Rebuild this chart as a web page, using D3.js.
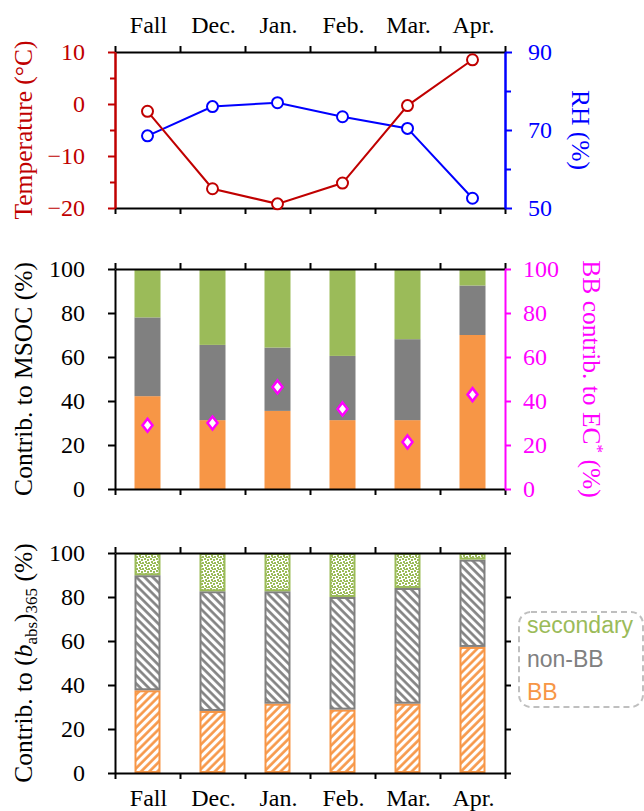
<!DOCTYPE html>
<html>
<head>
<meta charset="utf-8">
<script src="https://cdn.jsdelivr.net/npm/d3@7"></script>
<style>
  body { margin: 0; background: #fff; }
  svg text { font-family: "Liberation Serif", "Times New Roman", serif; }
  .legend text { font-family: "Liberation Sans", Arial, sans-serif; }
</style>
</head>
<body>
<div id="chart"></div>
<script>
// ---- data ----
const months = ["Fall", "Dec.", "Jan.", "Feb.", "Mar.", "Apr."];

// top panel
const temperature = [-1.4, -16.3, -19.2, -15.2, -0.3, 8.5];   // °C
const rh = [68.5, 76.0, 77.0, 73.4, 70.4, 52.5];               // %

// middle panel: contribution to MSOC (%)
const msocBB = [42.2, 31.3, 35.5, 31.3, 31.3, 70.0];
const msocNonBB = [35.8, 34.2, 28.8, 29.2, 36.8, 22.5];
const msocSecondary = [22.0, 34.5, 35.7, 39.5, 31.9, 7.5];
const ecBB = [29.0, 30.0, 46.4, 36.4, 21.4, 42.9];             // BB contrib. to EC* (%)

// bottom panel: contribution to (b_abs)365 (%)
const babsBB = [37.6, 28.2, 31.5, 28.8, 31.5, 57.3];
const babsNonBB = [52.3, 54.4, 51.1, 51.2, 52.6, 39.7];
const babsSecondary = [10.1, 17.4, 17.4, 20.0, 15.9, 3.0];

const sources = ["BB", "non-BB", "secondary"];
const tempTicks = [-20, -10, 0, 10];
const tempMinor = [-15, -5, 5];
const rhTicks = [50, 70, 90];
const rhMinor = [60, 80];
const pctTicks = [0, 20, 40, 60, 80, 100];

// ---- styling ----
const RED = "#C00000", BLUE = "#0000FF", MAGENTA = "#FF00FF";
const colors = {"BB": "#F79646", "non-BB": "#808080", "secondary": "#9BBB59"};
const FS = 24;      // tick / category labels
const TFS = 25.5;   // axis titles

const width = 644, height = 811;
const svg = d3.select("#chart").append("svg")
    .attr("width", width).attr("height", height);

// x layout shared by all panels
const x = d3.scaleBand().domain(months).range([115, 505]);
const xb = d3.scaleLinear().domain([0, months.length]).range([115, 505]); // band edges for ticks
const barW = x.bandwidth() * 0.4;

const panels = {
    top: [52, 208],
    mid: [269, 489],
    bot: [553, 773]
};

// patterns for the bottom panel
const defs = svg.append("defs");
function hatch(id, color, angle) {
    const s = 5.8;
    const p = defs.append("pattern").attr("id", id)
        .attr("patternUnits", "userSpaceOnUse")
        .attr("width", s).attr("height", s)
        .attr("patternTransform", `rotate(${angle})`);
    p.append("rect").attr("width", s).attr("height", s).attr("fill", "#fff");
    p.append("line").attr("x1", 1.5).attr("x2", 1.5).attr("y1", 0).attr("y2", s)
        .attr("stroke", color).attr("stroke-width", 2.6);
}
hatch("pat-BB", colors["BB"], 45);
hatch("pat-non-BB", colors["non-BB"], -45);
const dots = defs.append("pattern").attr("id", "pat-secondary")
    .attr("patternUnits", "userSpaceOnUse").attr("width", 6).attr("height", 6);
dots.append("rect").attr("width", 6).attr("height", 6).attr("fill", "#fff");
[[0, 0], [3, 1], [1, 3], [4, 4], [2, 5]].forEach(([a, b]) =>
    dots.append("rect").attr("x", a).attr("y", b).attr("width", 2).attr("height", 2)
        .attr("fill", colors["secondary"]));

// frame helper: top/bottom tick lines at band edges
function frameX(y0, y1) {
    const tickVals = d3.range(months.length + 1);
    const top = svg.append("g").attr("transform", `translate(0,${y0})`)
        .call(d3.axisTop(xb).tickValues(tickVals).tickFormat("").tickSize(6).tickSizeOuter(0));
    const bot = svg.append("g").attr("transform", `translate(0,${y1})`)
        .call(d3.axisBottom(xb).tickValues(tickVals).tickFormat("").tickSize(6).tickSizeOuter(0));
    [top, bot].forEach(g => {
        g.select(".domain").attr("stroke", "#000").attr("stroke-width", 2);
        g.selectAll(".tick line").attr("stroke", "#000").attr("stroke-width", 2);
    });
}

function styleAxis(g, color, labels) {
    g.select(".domain").attr("stroke", color).attr("stroke-width", 2);
    g.selectAll(".tick line").attr("stroke", color).attr("stroke-width", 2);
    g.selectAll(".tick text").attr("fill", color)
        .style("font-family", "'Liberation Serif', serif")
        .style("font-size", FS + "px");
    if (!labels) g.selectAll(".tick text").remove();
}

// ==========================================
// 1. Temperature and RH
// ==========================================
{
    const [y0, y1] = panels.top;
    const tY = d3.scaleLinear().domain([-20, 10]).range([y1, y0]);
    const hY = d3.scaleLinear().domain([50, 90]).range([y1, y0]);

    frameX(y0, y1);

    const la = svg.append("g").attr("transform", "translate(115,0)")
        .call(d3.axisLeft(tY).tickValues(tempTicks).tickSize(7).tickPadding(23).tickSizeOuter(0));
    styleAxis(la, RED, true);
    const lm = svg.append("g").attr("transform", "translate(115,0)")
        .call(d3.axisLeft(tY).tickValues(tempMinor).tickSize(5).tickFormat("").tickSizeOuter(0));
    styleAxis(lm, RED, false);

    const ra = svg.append("g").attr("transform", "translate(505,0)")
        .call(d3.axisRight(hY).tickValues(rhTicks).tickSize(7).tickPadding(16).tickSizeOuter(0));
    styleAxis(ra, BLUE, true);
    const rm = svg.append("g").attr("transform", "translate(505,0)")
        .call(d3.axisRight(hY).tickValues(rhMinor).tickSize(6).tickFormat("").tickSizeOuter(0));
    styleAxis(rm, BLUE, false);

    const cx = (d, i) => x(months[i]) + x.bandwidth() / 2;

    const series = [
        {vals: rh, y: hY, color: BLUE},
        {vals: temperature, y: tY, color: RED}
    ];
    series.forEach(s => {
        svg.append("path")
            .datum(s.vals)
            .attr("fill", "none")
            .attr("stroke", s.color)
            .attr("stroke-width", 2)
            .attr("d", d3.line().x(cx).y(d => s.y(d)));
    });
    series.forEach(s => {
        svg.append("g").selectAll("circle")
            .data(s.vals)
            .join("circle")
            .attr("cx", cx)
            .attr("cy", d => s.y(d))
            .attr("r", 5.5)
            .attr("fill", "#fff")
            .attr("stroke", s.color)
            .attr("stroke-width", 2);
    });

    // month labels above
    svg.append("g").selectAll("text")
        .data(months)
        .join("text")
        .attr("x", d => x(d) + x.bandwidth() / 2 + 1)
        .attr("y", 33)
        .attr("text-anchor", "middle")
        .style("font-size", FS + "px")
        .text(d => d);

    svg.append("text")
        .attr("transform", `translate(32,${(y0 + y1) / 2}) rotate(-90)`)
        .attr("text-anchor", "middle")
        .attr("fill", RED)
        .style("font-size", TFS + "px")
        .text("Temperature (°C)");

    svg.append("text")
        .attr("transform", `translate(572,${(y0 + y1) / 2}) rotate(90)`)
        .attr("text-anchor", "middle")
        .attr("fill", BLUE)
        .style("font-size", TFS + "px")
        .text("RH (%)");
}

// ==========================================
// 2. Contribution to MSOC
// ==========================================
{
    const [y0, y1] = panels.mid;
    const y = d3.scaleLinear().domain([0, 100]).range([y1, y0]);

    const table = months.map((m, i) => ({
        month: m, "BB": msocBB[i], "non-BB": msocNonBB[i], "secondary": msocSecondary[i]
    }));
    const stacked = d3.stack().keys(sources)(table);

    svg.append("g").selectAll("g")
        .data(stacked)
        .join("g")
        .attr("fill", d => colors[d.key])
        .selectAll("rect")
        .data(d => d)
        .join("rect")
        .attr("x", d => x(d.data.month) + (x.bandwidth() - barW) / 2)
        .attr("y", d => y(Math.min(d[1], 100)))
        .attr("height", d => y(d[0]) - y(Math.min(d[1], 100)))
        .attr("width", barW);

    frameX(y0, y1);

    const la = svg.append("g").attr("transform", "translate(115,0)")
        .call(d3.axisLeft(y).tickValues(pctTicks).tickSize(7).tickPadding(23).tickSizeOuter(0));
    styleAxis(la, "#000", true);
    const ra = svg.append("g").attr("transform", "translate(505,0)")
        .call(d3.axisRight(y).tickValues(pctTicks).tickSize(6).tickPadding(12).tickSizeOuter(0));
    styleAxis(ra, MAGENTA, true);

    // diamonds: BB contribution to EC*
    svg.append("g").selectAll("path")
        .data(ecBB)
        .join("path")
        .attr("transform", (d, i) => `translate(${x(months[i]) + x.bandwidth() / 2},${y(d)})`)
        .attr("d", "M0,-6.5L5,0L0,6.5L-5,0Z")
        .attr("fill", "#fff")
        .attr("stroke", MAGENTA)
        .attr("stroke-width", 2.5);

    svg.append("text")
        .attr("transform", `translate(32,${(y0 + y1) / 2}) rotate(-90)`)
        .attr("text-anchor", "middle")
        .style("font-size", TFS + "px")
        .text("Contrib. to MSOC (%)");

    const rt = svg.append("text")
        .attr("transform", `translate(583,${(y0 + y1) / 2}) rotate(90)`)
        .attr("text-anchor", "middle")
        .attr("fill", MAGENTA)
        .style("font-size", TFS + "px");
    rt.append("tspan").text("BB contrib. to EC");
    rt.append("tspan").attr("dy", -9).style("font-size", "17px").text("*");
    rt.append("tspan").attr("dy", 9).text(" (%)");
}

// ==========================================
// 3. Contribution to (b_abs)365
// ==========================================
{
    const [y0, y1] = panels.bot;
    const y = d3.scaleLinear().domain([0, 100]).range([y1, y0]);

    const table = months.map((m, i) => ({
        month: m, "BB": babsBB[i], "non-BB": babsNonBB[i], "secondary": babsSecondary[i]
    }));
    const stacked = d3.stack().keys(sources)(table);

    svg.append("g").selectAll("g")
        .data(stacked)
        .join("g")
        .attr("fill", d => `url(#pat-${d.key})`)
        .attr("stroke", d => colors[d.key])
        .attr("stroke-width", 2)
        .selectAll("rect")
        .data(d => d)
        .join("rect")
        .attr("x", d => x(d.data.month) + (x.bandwidth() - barW) / 2 + 1)
        .attr("y", d => y(Math.min(d[1], 100)) + 1)
        .attr("height", d => Math.max(0, y(d[0]) - y(Math.min(d[1], 100)) - 2))
        .attr("width", barW - 2);

    frameX(y0, y1);

    const la = svg.append("g").attr("transform", "translate(115,0)")
        .call(d3.axisLeft(y).tickValues(pctTicks).tickSize(7).tickPadding(23).tickSizeOuter(0));
    styleAxis(la, "#000", true);
    const ra = svg.append("g").attr("transform", "translate(505,0)")
        .call(d3.axisRight(y).tickValues(pctTicks).tickSize(6).tickSizeOuter(0));
    styleAxis(ra, "#000", false);

    svg.append("g").selectAll("text")
        .data(months)
        .join("text")
        .attr("x", d => x(d) + x.bandwidth() / 2 + 1)
        .attr("y", 806)
        .attr("text-anchor", "middle")
        .style("font-size", FS + "px")
        .text(d => d);

    const lt = svg.append("text")
        .attr("transform", `translate(32,${(y0 + y1) / 2}) rotate(-90)`)
        .attr("text-anchor", "middle")
        .style("font-size", TFS + "px");
    lt.append("tspan").text("Contrib. to (");
    lt.append("tspan").style("font-style", "italic").text("b");
    lt.append("tspan").attr("dy", 5).style("font-size", "17px").text("abs");
    lt.append("tspan").attr("dy", -5).text(")");
    lt.append("tspan").attr("dy", 5).style("font-size", "17px").text("365");
    lt.append("tspan").attr("dy", -5).text(" (%)");

    // legend
    const lg = svg.append("g").attr("class", "legend");
    lg.append("rect")
        .attr("x", 519).attr("y", 612)
        .attr("width", 124).attr("height", 95)
        .attr("rx", 12)
        .attr("fill", "none")
        .attr("stroke", "#BFBFBF")
        .attr("stroke-width", 2)
        .attr("stroke-dasharray", "6,4");
    const legendItems = ["secondary", "non-BB", "BB"];
    lg.selectAll("text")
        .data(legendItems)
        .join("text")
        .attr("x", 527)
        .attr("y", (d, i) => 633 + i * 33.5)
        .attr("fill", d => colors[d])
        .style("font-size", "23px")
        .text(d => d);
}
</script>
</body>
</html>
